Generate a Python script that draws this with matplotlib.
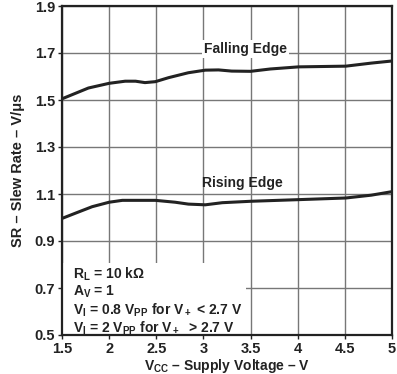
import numpy as np
import matplotlib
matplotlib.use('Agg')
import matplotlib.pyplot as plt
from matplotlib.patches import Rectangle

plt.rcParams['font.family'] = ['Liberation Sans', 'DejaVu Sans']
plt.rcParams['font.weight'] = 'bold'
plt.rcParams['mathtext.fontset'] = 'custom'
plt.rcParams['mathtext.rm'] = 'Liberation Sans:bold'
plt.rcParams['mathtext.it'] = 'Liberation Sans:bold'
plt.rcParams['mathtext.bf'] = 'Liberation Sans:bold'

# ── Data ──────────────────────────────────────────────────────────────────────
vcc_fall = [1.5, 1.78, 2.0, 2.17, 2.28, 2.38, 2.49, 2.63, 2.84, 3.02, 3.16,
            3.3, 3.5, 3.71, 4.01, 4.51, 4.78, 5.0]
sr_fall = [1.505, 1.551, 1.571, 1.580, 1.580, 1.574, 1.578, 1.595, 1.616,
           1.627, 1.628, 1.623, 1.622, 1.632, 1.641, 1.644, 1.657, 1.666]

vcc_rise = [1.5, 1.64, 1.82, 2.0, 2.14, 2.49, 2.70, 2.84, 3.02, 3.2,
            3.5, 4.01, 4.51, 4.78, 5.0]
sr_rise = [0.996, 1.018, 1.046, 1.065, 1.073, 1.073, 1.065, 1.057, 1.054, 1.063,
           1.069, 1.076, 1.083, 1.095, 1.110]

xticks = [1.5, 2, 2.5, 3, 3.5, 4, 4.5, 5]
yticks = [0.5, 0.7, 0.9, 1.1, 1.3, 1.5, 1.7, 1.9]

DARK = '#222222'
GRID = '#777777'

fig = plt.figure(figsize=(3.97, 3.74), dpi=100)
ax = fig.add_axes([62 / 397, 39 / 374, 330 / 397, 329 / 374])

ax.set_xlim(1.5, 5)
ax.set_ylim(0.5, 1.9)
ax.set_xticks(xticks)
ax.set_xticklabels([f'{t:g}' for t in xticks])
ax.set_yticks(yticks)
ax.set_yticklabels([f'{t:.1f}' for t in yticks])
ax.grid(True, color=GRID, lw=1.0, zorder=0)
ax.set_axisbelow(True)
ax.tick_params(axis='both', direction='out', length=3, width=1, color=DARK,
               labelsize=10.5, labelcolor=DARK, pad=2)
for lab in ax.get_xticklabels() + ax.get_yticklabels():
    lab.set_fontweight('bold')
for s in ax.spines.values():
    s.set_linewidth(1.6)
    s.set_color(DARK)

# curves
ax.plot(vcc_fall, sr_fall, color=DARK, lw=2.2, zorder=3)
ax.plot(vcc_rise, sr_rise, color=DARK, lw=2.2, zorder=3)

# labels on the curves
ax.text(3.45, 1.717, 'Falling Edge', ha='center', va='center', fontsize=10,
        fontweight='bold', color=DARK, zorder=4,
        bbox=dict(facecolor='white', edgecolor='none', pad=1.5))
ax.text(3.41, 1.147, 'Rising Edge', ha='center', va='center', fontsize=10,
        fontweight='bold', color=DARK, zorder=4)

# conditions box
ax.add_patch(Rectangle((1.5, 0.5), 1.95, 0.306, facecolor='white',
                       edgecolor='none', zorder=1))
cond = [r'R$_\mathregular{L}$ = 10 k$\Omega$',
        r'A$_\mathregular{V}$ = 1',
        r'V$_\mathregular{I}$ = 0.8 V$_\mathregular{PP}$ for V$_+$ < 2.7 V',
        r'V$_\mathregular{I}$ = 2 V$_\mathregular{PP}$ for V$_+$  > 2.7 V']
for i, line in enumerate(cond):
    ax.text(1.618, 0.76 - i * 0.0766, line, ha='left', va='center', fontsize=10,
            fontweight='bold', color=DARK, zorder=4)

ax.set_xlabel(r'V$_\mathregular{CC}$ – Supply Voltage – V', fontsize=10,
              fontweight='bold', color=DARK, labelpad=1)
ax.set_ylabel('SR – Slew Rate – V/μs', fontsize=10.5, fontweight='bold',
              color=DARK, labelpad=7)

fig.savefig('out.png', dpi=100)
